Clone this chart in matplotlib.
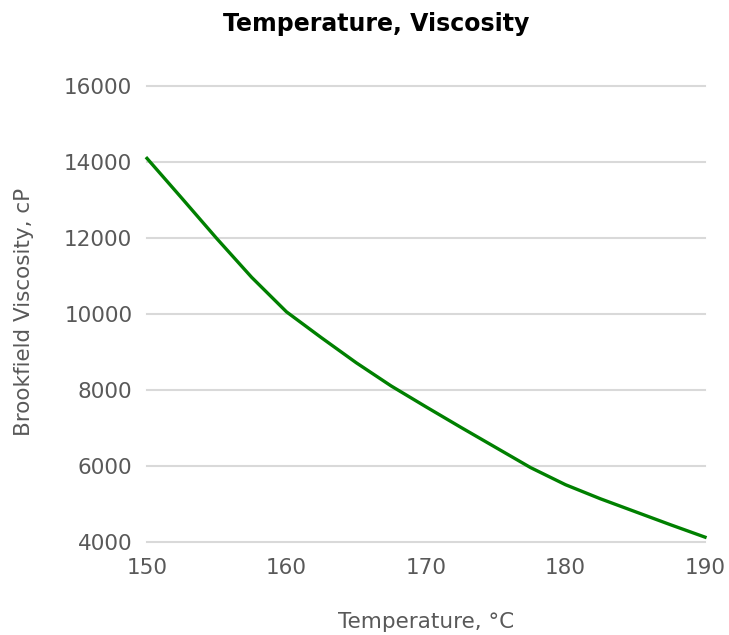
import matplotlib
matplotlib.use("Agg")
import matplotlib.pyplot as plt

# Data
temperature = [150, 152.5, 155, 157.5, 160, 162.5, 165, 167.5, 170,
               172.5, 175, 177.5, 180, 182.5, 185, 187.5, 190]
viscosity = [14090, 13040, 11980, 10960, 10050, 9370, 8710, 8100, 7550,
             7010, 6480, 5950, 5500, 5130, 4790, 4450, 4120]

x_ticks = [150, 160, 170, 180, 190]
y_ticks = [4000, 6000, 8000, 10000, 12000, 14000, 16000]


def main():
    plt.rcParams['font.family'] = ['DejaVu Sans']
    W, H = 729, 635
    fig = plt.figure(figsize=(W / 100, H / 100), dpi=100)
    ax = fig.add_axes([147 / W, 1 - 541.7 / H, 558 / W, 455.9 / H])

    ax.plot(temperature, viscosity, color="#008000", linewidth=2.4,
            solid_joinstyle="round", zorder=3, clip_on=False)

    ax.set_xlim(150, 190)
    ax.set_ylim(4000, 16000)
    ax.set_xticks(x_ticks)
    ax.set_yticks(y_ticks)

    # Horizontal gridlines only
    ax.grid(axis="y", color="#d9d9d9", linewidth=1.5)
    for gl in ax.get_ygridlines():
        gl.set_clip_on(False)
    ax.set_axisbelow(True)
    for s in ax.spines.values():
        s.set_visible(False)
    ax.tick_params(length=0, labelsize=15.5, labelcolor="#595959")
    ax.tick_params(axis="x", pad=12)
    ax.tick_params(axis="y", pad=10.5)

    fig.text(426 / W, 1 - 622 / H, "Temperature, °C", fontsize=15.5,
             color="#595959", ha="center", va="center")
    fig.text(24 / W, 1 - 312 / H, "Brookfield Viscosity, cP", fontsize=15.5,
             color="#595959", ha="center", va="center", rotation=90)
    fig.text(376 / W, 1 - 24 / H, "Temperature, Viscosity", fontsize=17,
             fontweight="bold", color="black", ha="center", va="center")

    fig.savefig("out.png", dpi=100)


main()
